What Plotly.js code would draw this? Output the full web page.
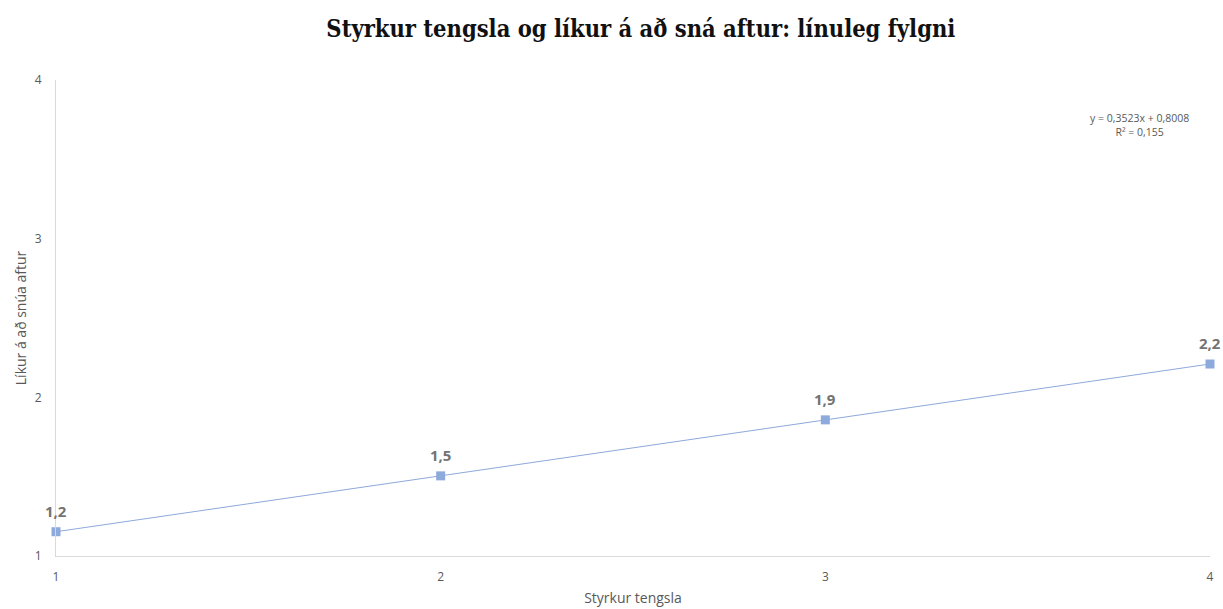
<!DOCTYPE html>
<html>
<head>
<meta charset="utf-8">
<script src="https://cdn.plot.ly/plotly-3.0.1.min.js"></script>
<style>html,body{margin:0;padding:0;background:#fff;}#chart{width:1223px;height:609px;}</style>
</head>
<body>
<div id="chart"></div>
<script>
const strength = [1, 2, 3, 4];
const likelihood = [1.153, 1.505, 1.858, 2.210];
const pointLabels = ["1,2", "1,5", "1,9", "2,2"];
const xTicks = [1, 2, 3, 4];
const yTicks = [1, 2, 3, 4];
const titleText = "Styrkur tengsla og líkur á að sná aftur: línuleg fylgni";
const equationText = "y = 0,3523x + 0,8008<br>R² = 0,155";

const trace = {
  x: strength,
  y: likelihood,
  mode: "lines+markers",
  type: "scatter",
  line: {color: "#8EA9DB", width: 1},
  marker: {symbol: "square", size: 9, color: "#8EA9DB"},
  cliponaxis: false,
  hoverinfo: "x+y"
};

const labelAnnotations = strength.map((x, i) => ({
  x: x, y: likelihood[i], xref: "x", yref: "y",
  text: pointLabels[i], showarrow: false,
  xanchor: "center", yanchor: "bottom", yshift: 9,
  font: {family: "Open Sans, sans-serif", size: 15, color: "#737373", weight: "bold"}
}));

const layout = {
  width: 1223, height: 609,
  margin: {l: 56, r: 13, t: 80, b: 53},
  paper_bgcolor: "#ffffff", plot_bgcolor: "#ffffff",
  showlegend: false,
  title: {
    text: titleText,
    font: {family: "DejaVu Serif Condensed, DejaVu Serif, serif", size: 23.5, color: "#111", weight: "bold"},
    x: 0.524, xanchor: "center", y: 0.952, yanchor: "middle"
  },
  xaxis: {
    range: [1, 4], tickvals: xTicks, ticktext: xTicks.map(String),
    showgrid: false, zeroline: false, showline: true, linecolor: "#d9d9d9", linewidth: 1,
    ticks: "", ticklabelstandoff: 10, tickfont: {family: "Open Sans, sans-serif", size: 12, color: "#595959"},
    title: {text: "Styrkur tengsla", font: {family: "Open Sans, sans-serif", size: 14, color: "#595959"}, standoff: 8}
  },
  yaxis: {
    range: [1, 4], tickvals: yTicks, ticktext: yTicks.map(String),
    showgrid: false, zeroline: false, showline: true, linecolor: "#d9d9d9", linewidth: 1,
    ticks: "", ticklabelstandoff: 11, tickfont: {family: "Open Sans, sans-serif", size: 12, color: "#595959"},
    title: {text: "Líkur á að snúa aftur", font: {family: "Open Sans, sans-serif", size: 14, color: "#595959"}, standoff: 4}
  },
  annotations: [{
    x: 0.939, y: 0.905, xref: "paper", yref: "paper", xanchor: "center", yanchor: "middle",
    text: equationText, showarrow: false, align: "center",
    font: {family: "Open Sans, sans-serif", size: 10.5, color: "#595959"}
  }].concat(labelAnnotations)
};

Plotly.newPlot("chart", [trace], layout, {displayModeBar: false});
</script>
</body>
</html>
